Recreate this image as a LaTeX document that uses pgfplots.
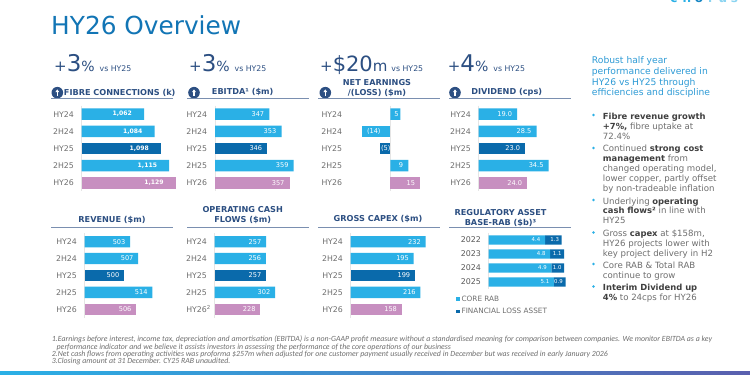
\documentclass[border=0pt]{standalone}
\usepackage{pgfplots}
\pgfplotsset{compat=1.18}
\usepackage{fontspec}
\setmainfont{DejaVu Sans}
\newfontfamily\footf{Carlito}
\usetikzlibrary{arrows.meta}
\definecolor{lb}{HTML}{2AB0E6}
\definecolor{db}{HTML}{0A6AAB}
\definecolor{pk}{HTML}{C78FC0}
\definecolor{navy}{HTML}{2C4F82}
\definecolor{rulec}{HTML}{7A8FB0}
\definecolor{tt}{HTML}{1275B5}
\definecolor{hd}{HTML}{2E9BD6}
\definecolor{gt}{HTML}{6E6E6E}
\definecolor{bt}{HTML}{3F3F3F}
\definecolor{bandr}{HTML}{5A5FAE}
\newcommand{\fs}[1]{\fontsize{#1}{#1}\selectfont}
\newcommand{\txt}[4][black]{\node[anchor=base west,inner sep=0pt,text=#1] at (#2pt,{(375-#3)*1pt}) {#4};}
\newcommand{\ctr}[3]{\node[anchor=base,inner sep=0pt,text=navy] at (#1pt,{(375-#2)*1pt}) {#3};}
\newcommand{\rl}[3]{\draw[rulec,line width=1pt] (#1pt,{(375-#3)*1pt}) -- (#2pt,{(375-#3)*1pt});}
\newcommand{\ic}[2]{\fill[navy] (#1pt,{(375-#2)*1pt}) circle (5.8pt);
 \draw[white,line width=1.3pt,-{Latex[length=2.8pt,width=4.2pt]}] (#1pt,{(375-#2-3.4)*1pt}) -- (#1pt,{(375-#2+3.4)*1pt});}
\newcommand{\bign}[3]{\node[anchor=base west,inner sep=0pt,text=navy] at (#1pt,{(375-#2)*1pt}) {#3};}
\newcommand{\bl}[2]{\fill[lb] (#1pt,{(375-#2)*1pt}) circle (1.3pt);}
\newcommand{\hd}{\fs{8.15}\bfseries}
\newcommand{\logoL}[3]{\node[anchor=base,inner sep=0pt,text=#3] at (#1pt,372.4pt) {\fs{12}\bfseries #2};}
\pgfplotsset{
 panel/.style n args={7}{% x0, ybottom(pic), height, xmin, xmax, pad, rows
  at={(#1pt,#2pt)},anchor=south west,scale only axis,width=100pt,height=#3pt,
  xmin=#4,xmax=#5,y dir=reverse,ymin=-0.5,ymax=#7-0.5,
  xbar,bar shift=0pt,bar width=11.6pt,
  hide x axis,axis y line=left,y axis line style={draw=black!10,line width=0.5pt,-},
  ytick style={draw=none},ytick={0,...,4},
  y tick label style={font=\fs{7.8},text=gt,inner sep=0pt,anchor=east},
  yticklabel shift=5.5pt,
  point meta=explicit symbolic,nodes near coords,
  every node near coord/.style={anchor=east,xshift=-#6pt,inner sep=0pt,text=white,font=\fs{6.6}},
  every axis plot/.append style={draw=none},clip=false},
}
\begin{document}
\begin{tikzpicture}[x=1pt,y=1pt]
\path[use as bounding box,fill=white] (0,0) rectangle (750pt,375pt);
% title
\txt[tt]{51}{35}{\fs{24.8}HY26 Overview}
% logo, cut off at the top edge
\begin{scope}
\clip (650pt,372.4pt) rectangle (750pt,375pt);
\logoL{674}{c}{lb}\logoL{687}{h}{lb}\logoL{699}{o}{db!60!lb}\logoL{711}{r}{lb!55}\logoL{723}{u}{lb!55}\logoL{734.5}{s}{lb!55}
\end{scope}
% big numbers
\bign{54}{72}{\fs{15}+\fs{23}3\fs{14}\%\hspace{5pt}\fs{7.8}vs HY25}
\bign{189}{72}{\fs{15}+\fs{23}3\fs{14}\%\hspace{5pt}\fs{7.8}vs HY25}
\bign{320}{72}{\fs{15}+\fs{21}\$20\fs{15}m\hspace{4pt}\fs{7.8}vs HY25}
\bign{447.7}{72}{\fs{15}+\fs{23}4\fs{14}\%\hspace{5pt}\fs{7.8}vs HY25}
% headers
\ic{57.3}{92.7}\ic{194}{92.7}\ic{325.3}{92.7}\ic{455}{92.7}
\rl{51}{173}{99}\rl{187}{308.5}{99}\rl{318.3}{440}{99}\rl{449}{570.7}{99}
\rl{51}{173}{227.3}\rl{187}{308.5}{227.3}\rl{318.3}{440}{227.3}\rl{449}{570.7}{227.3}
\ctr{119.7}{95.5}{\hd FIBRE CONNECTIONS (k)}
\ctr{242.7}{95}{\hd EBITDA¹ (\$m)}
\ctr{377}{85.5}{\hd NET EARNINGS}
\ctr{377}{95.5}{\hd /(LOSS) (\$m)}
\ctr{506.7}{95}{\hd DIVIDEND (cps)}
\ctr{112}{222.3}{\hd REVENUE (\$m)}
\ctr{242.7}{212.8}{\hd OPERATING CASH}
\ctr{242.7}{222.8}{\hd FLOWS (\$m)}
\ctr{378}{222}{\hd GROSS CAPEX (\$m)}
\ctr{500.5}{215.5}{\hd REGULATORY ASSET}
\ctr{500.5}{225.5}{\hd BASE-RAB (\$b)³}
% FIBRE
\begin{axis}[panel={81.7}{183.7}{85.7}{930}{1141.4}{12}{5},yticklabels={HY24,2H24,HY25,2H25,HY26},
 every node near coord/.append style={font=\fs{6.1}\bfseries}]
\addplot[fill=lb] coordinates {(1062,0)[1,062] (1084,1)[1,084] (1115,3)[1,115]};
\addplot[fill=db] coordinates {(1098,2)[1,098]};
\addplot[fill=pk] coordinates {(1129,4)[1,129]};
\end{axis}
% EBITDA
\begin{axis}[panel={215}{183.7}{85.7}{320.2}{369.5}{5}{5},yticklabels={HY24,2H24,HY25,2H25,HY26}]
\addplot[fill=lb] coordinates {(347,0)[347] (353,1)[353] (359,3)[359]};
\addplot[fill=db] coordinates {(346,2)[346]};
\addplot[fill=pk] coordinates {(357,4)[357]};
\end{axis}
% NET EARNINGS
\begin{axis}[panel={350}{183.7}{85.7}{-20.15}{29.85}{5}{5},yticklabels={HY24,2H24,HY25,2H25,HY26},y axis line style={draw=none}]
\draw[draw=black!10,line width=0.5pt] (axis cs:0,-0.5) -- (axis cs:0,4.5);
\addplot[fill=lb] coordinates {(5,0)[5\kern-3.5pt] (9,3)[9]};
\addplot[fill=lb,every node near coord/.append style={anchor=west,xshift=9.5pt}] coordinates {(-14,1)[(14)]};
\addplot[fill=db,every node near coord/.append style={anchor=west,xshift=5.5pt}] coordinates {(-5,2)[(5)]};
\addplot[fill=pk] coordinates {(15,4)[15]};
\end{axis}
% DIVIDEND
\begin{axis}[panel={478.7}{183.7}{85.7}{0}{49.3}{5}{5},yticklabels={HY24,2H24,HY25,2H25,HY26}]
\addplot[fill=lb] coordinates {(19.0,0)[19.0] (28.5,1)[28.5] (34.5,3)[34.5]};
\addplot[fill=db] coordinates {(23.0,2)[23.0]};
\addplot[fill=pk] coordinates {(24.0,4)[24.0]};
\end{axis}
% REVENUE
\begin{axis}[panel={84.7}{57.25}{84.5}{480.5}{530}{4.6}{5},bar width=11.3pt,yticklabels={HY24,2H24,HY25,2H25,HY26}]
\addplot[fill=lb] coordinates {(503,0)[503] (507,1)[507] (514,3)[514]};
\addplot[fill=db] coordinates {(500,2)[500]};
\addplot[fill=pk] coordinates {(506,4)[506]};
\end{axis}
% OCF
\begin{axis}[panel={214.7}{57.25}{84.5}{0}{500}{4.6}{5},bar width=11.3pt,yticklabels={HY24,2H24,HY25,2H25,{HY26\rlap{\textsuperscript{2}}}}]
\addplot[fill=lb] coordinates {(257,0)[257] (256,1)[256] (302,3)[302]};
\addplot[fill=db] coordinates {(257,2)[257]};
\addplot[fill=pk] coordinates {(228,4)[228]};
\end{axis}
% CAPEX
\begin{axis}[panel={350.7}{57.25}{84.5}{0}{309.6}{4.6}{5},bar width=11.3pt,yticklabels={HY24,2H24,HY25,2H25,HY26}]
\addplot[fill=lb] coordinates {(232,0)[232] (195,1)[195] (216,3)[216]};
\addplot[fill=db] coordinates {(199,2)[199]};
\addplot[fill=pk] coordinates {(158,4)[158]};
\end{axis}
% RAB
\begin{axis}[panel={488.7}{86}{56}{0}{7.8125}{4.5}{4},xbar stacked,bar width=9.3pt,ytick={0,1,2,3},
 yticklabels={2022,2023,2024,2025},y tick label style={font=\fs{7.9},text=black!65},
 every node near coord/.append style={font=\fs{5.4}},
 legend style={at={(-0.327,-0.08)},anchor=north west,draw=none,fill=none,font=\fs{7.3},text=gt,inner sep=0pt,row sep=1.2pt,legend cell align=left},
 legend image code/.code={\fill[#1] (0pt,-1.7pt) rectangle (3.4pt,1.7pt);}]
\addplot[fill=lb] coordinates {(4.4,0)[4.4] (4.8,1)[4.8] (4.9,2)[4.9] (5.1,3)[5.1]};
\addplot[fill=db,every node near coord/.append style={anchor=center,xshift=-2.5pt}] coordinates {(1.3,0)[1.3] (1.1,1)[1.1] (1.0,2)[1.0] (0.9,3)[0.9]};
\legend{CORE RAB,FINANCIAL LOSS ASSET}
\end{axis}
% right column
\txt[hd]{591.7}{63.3}{\fs{9.2}Robust half year}
\txt[hd]{591.7}{74.3}{\fs{9.2}performance delivered in}
\txt[hd]{591.7}{85.1}{\fs{9.2}HY26 vs HY25 through}
\txt[hd]{591.7}{96}{\fs{9.2}efficiencies and discipline}
\newcommand{\BT}[2]{\txt[gt]{602.7}{#1}{\fs{8.6}#2}}
\bl{593.5}{115}\bl{593.5}{148}\bl{593.5}{200}\bl{593.5}{232.5}\bl{593.5}{264}\bl{593.5}{286.5}
\BT{119.5}{\textcolor{bt}{\bfseries\fs{8.4}Fibre revenue growth}}
\BT{129.5}{\textcolor{bt}{\bfseries\fs{8.4}+7\%,} fibre uptake at}
\BT{139.5}{72.4\%}
\BT{152}{Continued \textcolor{bt}{\bfseries\fs{8.4}strong cost}}
\BT{161.7}{\textcolor{bt}{\bfseries\fs{8.4}management} from}
\BT{171.7}{changed operating model,}
\BT{182}{lower copper, partly offset}
\BT{192}{by non-tradeable inflation}
\BT{204.3}{Underlying \textcolor{bt}{\bfseries\fs{8.4}operating}}
\BT{214}{\textcolor{bt}{\bfseries\fs{8.4}cash flows²} in line with}
\BT{224}{HY25}
\BT{236.3}{Gross \textcolor{bt}{\bfseries\fs{8.4}capex} at \$158m,}
\BT{246.3}{HY26 projects lower with}
\BT{256.3}{key project delivery in H2}
\BT{268.3}{Core RAB \& Total RAB}
\BT{278.7}{continue to grow}
\BT{290.7}{\textcolor{bt}{\bfseries\fs{8.4}Interim Dividend up}}
\BT{300.3}{\textcolor{bt}{\bfseries\fs{8.4}4\%} to 24cps for HY26}
% footnotes
\txt[gt]{51.7}{342}{\footf\itshape\fs{7.87}1.Earnings before interest, income tax, depreciation and amortisation (EBITDA) is a non-GAAP profit measure without a standardised meaning for comparison between companies.  We monitor EBITDA as a key}
\txt[gt]{56.5}{349.2}{\footf\itshape\fs{7.87}performance indicator and we believe it assists investors in assessing the performance of the core operations of our business}
\txt[gt]{51.7}{356.5}{\footf\itshape\fs{7.87}2.Net cash flows from operating activities was proforma \$257m when adjusted for one customer payment usually received in December but was received in early January 2026}
\txt[gt]{51.7}{363.3}{\footf\itshape\fs{7.87}3.Closing amount at 31 December. CY25 RAB unaudited.}
% bottom band
\shade[left color=lb,right color=bandr] (0,0) rectangle (750pt,3.3pt);
\end{tikzpicture}
\end{document}
